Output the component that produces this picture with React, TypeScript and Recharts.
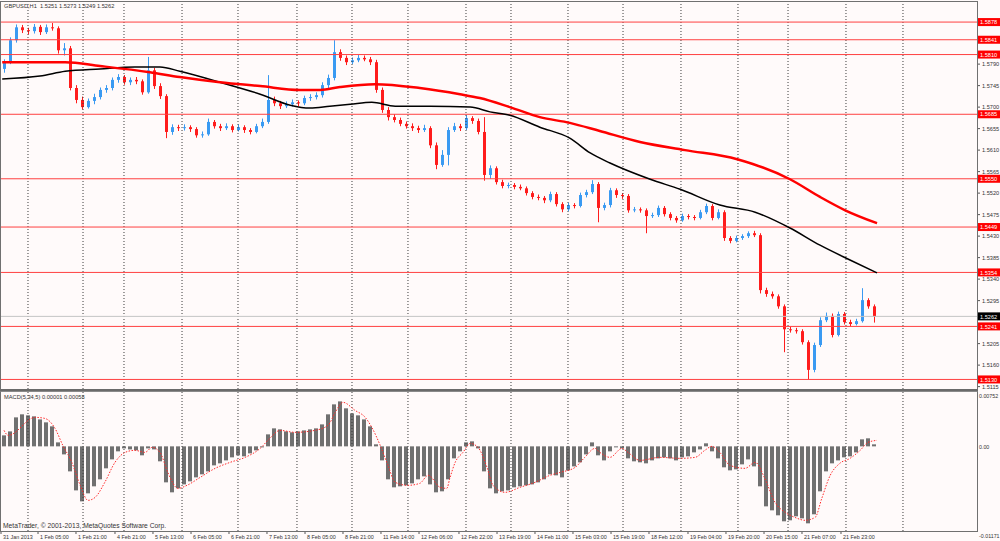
import React from 'react'
import { ComposedChart, Bar, Line, XAxis, YAxis, ReferenceLine } from 'recharts'

// GBPUSD H1 candles, grouped ~2.5 bars per candle (index 0 = 31 Jan 2013)
const opens = [
  1.5780, 1.5794, 1.5840, 1.5867, 1.5861, 1.5859, 1.5868, 1.5857, 1.5867, 1.5865,
  1.5819, 1.5823, 1.5740, 1.5715, 1.5700, 1.5713, 1.5721, 1.5736, 1.5740, 1.5757,
  1.5763, 1.5752, 1.5757, 1.5754, 1.5731, 1.5777, 1.5744, 1.5723, 1.5648, 1.5658,
  1.5656, 1.5658, 1.5654, 1.5641, 1.5643, 1.5669, 1.5660, 1.5656, 1.5660, 1.5652,
  1.5658, 1.5652, 1.5648, 1.5660, 1.5669, 1.5715, 1.5708, 1.5702, 1.5706, 1.5710,
  1.5708, 1.5719, 1.5721, 1.5725, 1.5746, 1.5761, 1.5815, 1.5803, 1.5794, 1.5798,
  1.5803, 1.5800, 1.5794, 1.5736, 1.5694, 1.5679, 1.5673, 1.5665, 1.5660, 1.5656,
  1.5652, 1.5656, 1.5620, 1.5579, 1.5600, 1.5652, 1.5660, 1.5656, 1.5677, 1.5671,
  1.5648, 1.5558, 1.5572, 1.5543, 1.5535, 1.5537, 1.5533, 1.5530, 1.5520, 1.5512,
  1.5510, 1.5505, 1.5518, 1.5497, 1.5486, 1.5495, 1.5493, 1.5516, 1.5522, 1.5539,
  1.5489, 1.5495, 1.5526, 1.5516, 1.5514, 1.5484, 1.5486, 1.5484, 1.5472, 1.5474,
  1.5489, 1.5476, 1.5468, 1.5463, 1.5472, 1.5470, 1.5468, 1.5480, 1.5493, 1.5468,
  1.5480, 1.5426, 1.5420, 1.5426, 1.5430, 1.5436, 1.5432, 1.5317, 1.5309, 1.5304,
  1.5283, 1.5235, 1.5233, 1.5231, 1.5208, 1.5150, 1.5202, 1.5254, 1.5263, 1.5223,
  1.5267, 1.5250, 1.5246, 1.5252, 1.5296, 1.5283,
]
const highs = [
  1.5800, 1.5846, 1.5873, 1.5872, 1.5866, 1.5874, 1.5872, 1.5873, 1.5876, 1.5869,
  1.5834, 1.5828, 1.5746, 1.5722, 1.5718, 1.5728, 1.5741, 1.5746, 1.5762, 1.5769,
  1.5767, 1.5762, 1.5763, 1.5758, 1.5805, 1.5782, 1.5750, 1.5727, 1.5664, 1.5663,
  1.5664, 1.5662, 1.5658, 1.5649, 1.5676, 1.5673, 1.5665, 1.5666, 1.5664, 1.5664,
  1.5662, 1.5656, 1.5665, 1.5676, 1.5767, 1.5722, 1.5713, 1.5712, 1.5716, 1.5714,
  1.5724, 1.5727, 1.5731, 1.5752, 1.5768, 1.5840, 1.5821, 1.5808, 1.5804, 1.5809,
  1.5808, 1.5805, 1.5799, 1.5741, 1.5700, 1.5685, 1.5678, 1.5670, 1.5666, 1.5661,
  1.5663, 1.5660, 1.5626, 1.5610, 1.5658, 1.5667, 1.5665, 1.5683, 1.5681, 1.5676,
  1.5679, 1.5578, 1.5576, 1.5548, 1.5542, 1.5541, 1.5538, 1.5534, 1.5524, 1.5517,
  1.5514, 1.5523, 1.5522, 1.5501, 1.5500, 1.5499, 1.5521, 1.5527, 1.5547, 1.5543,
  1.5500, 1.5531, 1.5530, 1.5520, 1.5518, 1.5491, 1.5490, 1.5488, 1.5479, 1.5494,
  1.5493, 1.5480, 1.5472, 1.5477, 1.5476, 1.5474, 1.5485, 1.5498, 1.5497, 1.5486,
  1.5484, 1.5430, 1.5431, 1.5434, 1.5440, 1.5441, 1.5436, 1.5322, 1.5314, 1.5308,
  1.5287, 1.5240, 1.5238, 1.5235, 1.5212, 1.5207, 1.5260, 1.5270, 1.5268, 1.5272,
  1.5271, 1.5255, 1.5257, 1.5321, 1.5300, 1.5287,
]
const lows = [
  1.5772, 1.5790, 1.5835, 1.5855, 1.5852, 1.5854, 1.5851, 1.5853, 1.5860, 1.5812,
  1.5808, 1.5735, 1.5708, 1.5695, 1.5697, 1.5706, 1.5716, 1.5730, 1.5735, 1.5751,
  1.5747, 1.5746, 1.5748, 1.5726, 1.5728, 1.5738, 1.5717, 1.5635, 1.5642, 1.5650,
  1.5651, 1.5648, 1.5636, 1.5636, 1.5640, 1.5655, 1.5650, 1.5652, 1.5647, 1.5649,
  1.5646, 1.5643, 1.5645, 1.5656, 1.5665, 1.5702, 1.5696, 1.5698, 1.5701, 1.5702,
  1.5704, 1.5713, 1.5716, 1.5720, 1.5740, 1.5756, 1.5797, 1.5788, 1.5790, 1.5794,
  1.5796, 1.5788, 1.5730, 1.5688, 1.5672, 1.5668, 1.5660, 1.5655, 1.5650, 1.5646,
  1.5648, 1.5614, 1.5570, 1.5575, 1.5578, 1.5648, 1.5650, 1.5652, 1.5665, 1.5643,
  1.5546, 1.5550, 1.5538, 1.5530, 1.5530, 1.5528, 1.5526, 1.5515, 1.5507, 1.5505,
  1.5499, 1.5501, 1.5492, 1.5480, 1.5482, 1.5488, 1.5490, 1.5511, 1.5518, 1.5459,
  1.5484, 1.5490, 1.5510, 1.5508, 1.5479, 1.5480, 1.5479, 1.5436, 1.5468, 1.5470,
  1.5471, 1.5463, 1.5458, 1.5460, 1.5465, 1.5463, 1.5465, 1.5476, 1.5463, 1.5465,
  1.5420, 1.5415, 1.5417, 1.5422, 1.5426, 1.5428, 1.5310, 1.5303, 1.5299, 1.5278,
  1.5187, 1.5228, 1.5226, 1.5203, 1.5130, 1.5145, 1.5198, 1.5250, 1.5218, 1.5220,
  1.5245, 1.5241, 1.5243, 1.5249, 1.5278, 1.5249,
]
const closes = [
  1.5794, 1.5840, 1.5867, 1.5861, 1.5859, 1.5868, 1.5857, 1.5867, 1.5865, 1.5819,
  1.5823, 1.5740, 1.5715, 1.5700, 1.5713, 1.5721, 1.5736, 1.5740, 1.5757, 1.5763,
  1.5752, 1.5757, 1.5754, 1.5731, 1.5777, 1.5744, 1.5723, 1.5648, 1.5658, 1.5656,
  1.5658, 1.5654, 1.5641, 1.5643, 1.5669, 1.5660, 1.5656, 1.5660, 1.5652, 1.5658,
  1.5652, 1.5648, 1.5660, 1.5669, 1.5715, 1.5708, 1.5702, 1.5706, 1.5710, 1.5708,
  1.5719, 1.5721, 1.5725, 1.5746, 1.5761, 1.5815, 1.5803, 1.5794, 1.5798, 1.5803,
  1.5800, 1.5794, 1.5736, 1.5694, 1.5679, 1.5673, 1.5665, 1.5660, 1.5656, 1.5652,
  1.5656, 1.5620, 1.5579, 1.5600, 1.5652, 1.5660, 1.5656, 1.5677, 1.5671, 1.5648,
  1.5558, 1.5572, 1.5543, 1.5535, 1.5537, 1.5533, 1.5530, 1.5520, 1.5512, 1.5510,
  1.5505, 1.5518, 1.5497, 1.5486, 1.5495, 1.5493, 1.5516, 1.5522, 1.5539, 1.5489,
  1.5495, 1.5526, 1.5516, 1.5514, 1.5484, 1.5486, 1.5484, 1.5472, 1.5474, 1.5489,
  1.5476, 1.5468, 1.5463, 1.5472, 1.5470, 1.5468, 1.5480, 1.5493, 1.5468, 1.5480,
  1.5426, 1.5420, 1.5426, 1.5430, 1.5436, 1.5432, 1.5317, 1.5309, 1.5304, 1.5283,
  1.5235, 1.5233, 1.5231, 1.5208, 1.5150, 1.5202, 1.5254, 1.5263, 1.5223, 1.5267,
  1.5250, 1.5246, 1.5252, 1.5296, 1.5283, 1.5262,
]

// MACD(5,34,5) histogram, one value per candle
const macdHist = [
  0.00152, 0.00207, 0.00401, 0.00443, 0.00429, 0.00415, 0.00373, 0.00332, 0.00277, 0.00055,
  -0.00111, -0.00346, -0.00609, -0.00761, -0.0065, -0.00553, -0.00456, -0.00304, -0.0018, -0.00069,
  -0.00028, -0.00042, -0.00055, -0.00124, -0.00028, -0.00042, -0.00207, -0.00498, -0.00636, -0.00581,
  -0.00526, -0.00484, -0.00429, -0.00387, -0.00346, -0.00263, -0.00235, -0.00194, -0.00152, -0.00124,
  -0.00138, -0.00097, -0.00055, -0.00014, 0.00166, 0.00249, 0.00235, 0.00207, 0.00194, 0.00207,
  0.00221, 0.00235, 0.00249, 0.00304, 0.00443, 0.00581, 0.00622, 0.00526, 0.00456, 0.00429,
  0.00373, 0.00277, 0.00028, -0.00194, -0.00456, -0.00567, -0.00553, -0.00539, -0.00512, -0.00456,
  -0.00415, -0.00526, -0.00636, -0.00622, -0.00456, -0.00166, -0.00069, 0.00055, 0.00069, -0.00028,
  -0.00346, -0.00581, -0.0065, -0.00622, -0.00609, -0.00567, -0.00553, -0.00539, -0.00526, -0.00498,
  -0.00456, -0.00387, -0.00401, -0.00429, -0.00332, -0.00277, -0.00221, -0.00111, 0.00055, -0.00124,
  -0.00194, -0.00069, -0.00014, -0.00028, -0.00166, -0.00207, -0.00221, -0.00235, -0.00194, -0.00166,
  -0.00152, -0.00166, -0.00194, -0.00152, -0.00138, -0.00083, -0.00042, 0.00042, -0.00069, -0.00166,
  -0.0029, -0.00332, -0.00318, -0.00249, -0.0018, -0.00277, -0.00553, -0.0083, -0.00885, -0.00954,
  -0.01037, -0.01023, -0.00968, -0.00996, -0.01065, -0.0094, -0.00622, -0.00346, -0.00235, -0.00194,
  -0.00152, -0.00138, -0.00083, 0.00097, 0.00111, 0.00028,
]

// signal line (dotted), read at these candle positions
const signalAt = [
  0, 0.7, 5.2, 6.8, 8.5, 9.8, 11.3, 12.7, 14, 15.2, 16.8, 18.5, 20.2, 21.8, 23.5, 24.7, 26, 27.3,
  29, 30.5, 32.7, 35.2, 37.7, 40.2, 42.7, 44.3, 46, 48.5, 51.8, 54, 55.2, 56.5, 58.5, 60.2, 61.3,
  62.7, 64, 65.2, 67.3, 69.3, 70.7, 72.7, 73.8, 74.3, 75.2, 76.5, 77.7, 79, 80.5, 81.5, 83.5, 86,
  88.5, 91, 92.7, 95.2, 96.8, 98.5, 99.3, 101, 103, 104, 106, 109.3, 112.7, 115.2, 116.8, 118,
  119.3, 121, 123.5, 125.2, 126.8, 128.5, 130.2, 131.8, 133.5, 135.2, 136.3, 137.7, 139.3, 141,
  142.7, 144, 145.5,
]
const signalVals = [
  0.00221, 0.00152, 0.00401, 0.00387, 0.00249, 0.00014, -0.00221, -0.00539, -0.00747, -0.00705,
  -0.00498, -0.00221, -0.00083, -0.00055, -0.00083, -0.00014, -0.00083, -0.0036, -0.00581, -0.00539,
  -0.00429, -0.00304, -0.00221, -0.00152, -0.00028, 0.00111, 0.00221, 0.00194, 0.00221, 0.0029,
  0.0047, 0.00609, 0.00498, 0.00401, 0.00263, 0.00014, -0.00263, -0.00498, -0.00539, -0.00512,
  -0.00401, -0.00567, -0.00581, -0.00443, -0.00221, -0.00083, 0.00041, -0.00014, -0.0029, -0.00539,
  -0.00636, -0.00567, -0.00498, -0.00401, -0.0036, -0.0029, -0.00152, -0.00028, -0.00083, -0.00152,
  -0.00028, -0.00083, -0.00194, -0.00152, -0.00166, -0.00152, -0.00055, 0, -0.00083, -0.00263,
  -0.00304, -0.00221, -0.00443, -0.00774, -0.00913, -0.00982, -0.01023, -0.00982, -0.00719, -0.00401,
  -0.00235, -0.00166, -0.00055, 0.00055, 0.00083,
]

// moving averages (red thick, black thin)
const redMaAt = [-0.3, 10.2, 16, 24.3, 29.3, 36, 42.7, 49.3, 52.7, 56, 61.8, 69.3, 76, 79.3, 84.3, 89.3, 94.3, 99.3, 106, 113.5, 122.2, 124.8, 131, 136, 140.2, 145.5]
const redMaVals = [1.5794, 1.5794, 1.5786, 1.5773, 1.5763, 1.5752, 1.5744, 1.5736, 1.5736, 1.5742, 1.5748, 1.5740, 1.5727, 1.5719, 1.5700, 1.5679, 1.5667, 1.5650, 1.5627, 1.5610, 1.5591, 1.5581, 1.5549, 1.5512, 1.5484, 1.5457]
const blackMaAt = [-0.3, 6, 10.2, 16, 21.8, 26, 29.3, 36, 42.7, 47.7, 51, 54.3, 57.7, 61.3, 65.2, 71, 77.7, 81, 84.3, 89.3, 94.3, 97.7, 101, 107.7, 112.7, 119.3, 125.2, 131, 136, 141, 145.5]
const blackMaVals = [1.5759, 1.5765, 1.5775, 1.5780, 1.5784, 1.5784, 1.5775, 1.5752, 1.5727, 1.5704, 1.5698, 1.5702, 1.5706, 1.5710, 1.5702, 1.5702, 1.5700, 1.5690, 1.5683, 1.5658, 1.5635, 1.5604, 1.5583, 1.5549, 1.5528, 1.5495, 1.5480, 1.5447, 1.5411, 1.5380, 1.5353]

const levelLines = [1.5878, 1.5841, 1.5810, 1.5685, 1.5550, 1.5449, 1.5354, 1.5241, 1.5130]
const lastPrice = 1.5262
const priceTicks = [1.5790, 1.5745, 1.5700, 1.5655, 1.5610, 1.5565, 1.5520, 1.5475, 1.5430, 1.5385, 1.5340, 1.5295, 1.5205, 1.5160, 1.5115]
const macdTicks = [0.00752, 0, -0.01171]
const macdTickLabels = ['0.00752', '0.00', '-0.01171']

// period separators, in candle units
const gridAt = [4, 13.17, 20, 29.67, 39, 48.83, 58, 67.33, 77, 84.5, 94, 103.17, 112.83, 122.33, 130.67, 140.33, 149.83]
const timeTickAt = [-0.5, 5.67, 12, 18.5, 24.83, 31.17, 37.5, 43.83, 50.17, 56.5, 62.83, 69.17, 75.83, 82.17, 88.5, 94.83, 101.17, 107.5, 114, 120.33, 126.67, 133, 139.5]
const timeLabels = [
  '31 Jan 2013', '1 Feb 05:00', '1 Feb 21:00', '4 Feb 21:00', '5 Feb 13:00', '6 Feb 05:00',
  '6 Feb 21:00', '7 Feb 13:00', '8 Feb 05:00', '8 Feb 21:00', '11 Feb 14:00', '12 Feb 06:00',
  '12 Feb 22:00', '13 Feb 19:00', '14 Feb 11:00', '15 Feb 03:00', '15 Feb 19:00', '18 Feb 12:00',
  '19 Feb 04:00', '19 Feb 20:00', '20 Feb 15:00', '21 Feb 07:00', '21 Feb 23:00',
]

const X_DOMAIN: [number, number] = [-0.5, 162.1667]
const UP = '#3a9af2'
const DOWN = '#ff1c1c'
const TXT = '#333'
const FONT = "'Liberation Sans', Arial, sans-serif"

const candles = opens.map((o, i) => ({ i, o, h: highs[i], l: lows[i], c: closes[i], range: [lows[i], highs[i]] }))
const macdRows = macdHist.map((m, i) => ({ i, m }))
const signalRows = signalAt.map((i, k) => ({ i, s: signalVals[k] }))
const redMaRows = redMaAt.map((i, k) => ({ i, v: redMaVals[k] }))
const blackMaRows = blackMaAt.map((i, k) => ({ i, v: blackMaVals[k] }))

function Candle(props: any) {
  const { x, y, width, height, payload } = props
  if (!payload || x == null) return null
  const top = Math.min(y, y + height)
  const hh = Math.abs(height)
  const { o, h, l, c } = payload
  const k = hh / (h - l || 1)
  const yo = top + (h - o) * k
  const yc = top + (h - c) * k
  const col = c >= o ? UP : DOWN
  const cx = Math.round(x + width / 2) + 0.5
  return (
    <g>
      <line x1={cx} x2={cx} y1={top} y2={top + hh} stroke={col} strokeWidth={1} />
      <rect x={cx - 1.5} y={Math.min(yo, yc)} width={3} height={Math.max(1, Math.abs(yo - yc))} fill={col} />
    </g>
  )
}

// histogram column: fixed width, centred on the candle slot
function HistBar(props: any) {
  const { x, y, width, height } = props
  if (x == null || height == null) return null
  const cx = Math.round(x + width / 2)
  const top = Math.min(y, y + height)
  return <rect x={cx - 2} y={top} width={4} height={Math.max(1, Math.abs(height))} fill="#707070" />
}

function PriceTick(props: any) {
  const { x, y, payload } = props
  return (
    <g>
      <line x1={x + 1} x2={x + 3} y1={y} y2={y} stroke="#555" />
      <text x={x + 5} y={y + 2} fontSize={5.6} fill={TXT} fontFamily={FONT}>{payload.value.toFixed(4)}</text>
    </g>
  )
}

function MacdTick(props: any) {
  const { x, y, payload } = props
  const k = macdTicks.indexOf(payload.value)
  const dy = k === 0 ? 4 : k === 2 ? 5 : 1
  return (
    <text x={x + 2} y={y + dy + 2} fontSize={5.3} fill={TXT} fontFamily={FONT}>{macdTickLabels[k]}</text>
  )
}

function TimeTick(props: any) {
  const { x, y, payload } = props
  const k = timeTickAt.indexOf(payload.value)
  return (
    <g>
      <line x1={x} x2={x} y1={y} y2={y + 3} stroke="#555" />
      <text x={x + 2} y={y + 7.5} fontSize={5.4} fill={TXT} fontFamily={FONT}>{timeLabels[k]}</text>
    </g>
  )
}

function PriceTag(props: any) {
  const { viewBox, text, bg } = props
  if (!viewBox) return null
  const x = viewBox.x + viewBox.width + 1
  const y = viewBox.y
  return (
    <g>
      <rect x={x} y={y - 4} width={22} height={8} fill={bg} />
      <text x={x + 2} y={y + 2.2} fontSize={5.6} fill="#fff" fontFamily={FONT}>{text}</text>
    </g>
  )
}

const abs: React.CSSProperties = { position: 'absolute', left: 0, top: 0 }

export default function App() {
  return (
    <div style={{ position: 'absolute', left: 0, top: 0, width: 1000, height: 541, background: '#fffafa', fontFamily: FONT, overflow: 'hidden' }}>
      <div style={abs}>
        <ComposedChart width={1000} height={541} data={candles} margin={{ top: 2, right: 1, left: 1, bottom: 152 }}>
          <XAxis type="number" dataKey="i" domain={X_DOMAIN} allowDataOverflow hide />
          <YAxis orientation="right" width={22} domain={[1.511, 1.592]} allowDataOverflow ticks={priceTicks}
            interval={0} tick={<PriceTick />} tickLine={false} axisLine={false} tickSize={0} tickMargin={0} />
          {gridAt.map(g => (
            <ReferenceLine key={'g' + g} x={g} stroke="#3c3c3c" strokeDasharray="1 2" />
          ))}
          {levelLines.map(v => (
            <ReferenceLine key={'l' + v} y={v} stroke="#ff4040" strokeWidth={1}
              label={<PriceTag text={v.toFixed(4)} bg="#ff0000" />} />
          ))}
          <ReferenceLine y={lastPrice} stroke="#c4c4c4" label={<PriceTag text={lastPrice.toFixed(4)} bg="#000000" />} />
          <Bar dataKey="range" barSize={4} shape={<Candle />} isAnimationActive={false} />
          <Line data={blackMaRows} dataKey="v" type="monotone" stroke="#000" strokeWidth={1.5} dot={false} isAnimationActive={false} />
          <Line data={redMaRows} dataKey="v" type="monotone" stroke="#ff0000" strokeWidth={2.5} dot={false} isAnimationActive={false} />
        </ComposedChart>
      </div>
      <div style={abs}>
        <ComposedChart width={1000} height={541} data={macdRows} margin={{ top: 392, right: 1, left: 1, bottom: 0 }}>
          <XAxis type="number" dataKey="i" domain={X_DOMAIN} allowDataOverflow ticks={timeTickAt} interval={0}
            tick={<TimeTick />} tickLine={false} axisLine={false} height={10} tickSize={0} tickMargin={0} />
          <YAxis orientation="right" width={22} domain={[-0.01171, 0.00752]} allowDataOverflow ticks={macdTicks}
            interval={0} tick={<MacdTick />} tickLine={false} axisLine={false} tickSize={0} tickMargin={0} />
          {gridAt.map(g => (
            <ReferenceLine key={'mg' + g} x={g} stroke="#3c3c3c" strokeDasharray="1 2" />
          ))}
          <Bar dataKey="m" barSize={4} shape={<HistBar />} isAnimationActive={false} />
          <Line data={signalRows} dataKey="s" type="monotone" stroke="#ff2a2a" strokeWidth={1} strokeDasharray="1.5 1.5" dot={false} isAnimationActive={false} />
        </ComposedChart>
      </div>
      <div style={{ position: 'absolute', left: 0, top: 1, width: 976, height: 387, borderLeft: '1px solid #707070', borderRight: '1px solid #707070', borderTop: '1px solid #707070', borderBottom: '2px solid #6a6a6a', pointerEvents: 'none' }} />
      <div style={{ position: 'absolute', left: 0, top: 391, width: 976, height: 139, border: '1px solid #707070', borderTop: '1px solid #8a8a8a', pointerEvents: 'none' }} />
      <div style={{ position: 'absolute', left: 4, top: 3, fontSize: 5.7, lineHeight: '7px', color: TXT, whiteSpace: 'pre' }}>GBPUSD,H1  1.5251 1.5273 1.5249 1.5262</div>
      <div style={{ position: 'absolute', left: 4, top: 394, fontSize: 5.7, lineHeight: '7px', color: TXT, whiteSpace: 'pre' }}>MACD(5,34,5) 0.00001 0.00058</div>
      <div style={{ position: 'absolute', left: 3, top: 522, fontSize: 6.7, lineHeight: '7px', color: TXT, whiteSpace: 'pre' }}>MetaTrader, © 2001-2013, MetaQuotes Software Corp.</div>
    </div>
  )
}
